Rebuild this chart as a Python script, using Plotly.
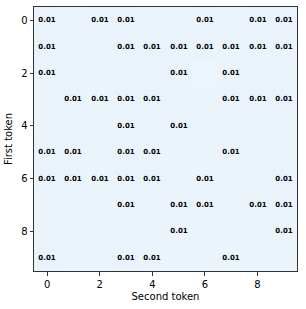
import plotly.graph_objects as go

rows = list(range(10))
cols = list(range(10))

# value grid (row = first token, col = second token)
values = [
    [0.0105, 0.0090, 0.0102, 0.0106, 0.0088, 0.0091, 0.0101, 0.0089, 0.0104, 0.0107],
    [0.0101, 0.0088, 0.0090, 0.0105, 0.0101, 0.0103, 0.0106, 0.0100, 0.0104, 0.0107],
    [0.0100, 0.0090, 0.0088, 0.0091, 0.0090, 0.0101, 0.0087, 0.0100, 0.0090, 0.0091],
    [0.0090, 0.0101, 0.0100, 0.0105, 0.0101, 0.0091, 0.0088, 0.0101, 0.0104, 0.0105],
    [0.0091, 0.0088, 0.0090, 0.0100, 0.0091, 0.0101, 0.0090, 0.0088, 0.0090, 0.0091],
    [0.0104, 0.0101, 0.0090, 0.0105, 0.0100, 0.0090, 0.0088, 0.0101, 0.0090, 0.0088],
    [0.0105, 0.0101, 0.0100, 0.0105, 0.0101, 0.0090, 0.0100, 0.0091, 0.0088, 0.0105],
    [0.0090, 0.0088, 0.0091, 0.0100, 0.0090, 0.0101, 0.0104, 0.0090, 0.0100, 0.0105],
    [0.0088, 0.0090, 0.0088, 0.0091, 0.0090, 0.0100, 0.0091, 0.0088, 0.0090, 0.0100],
    [0.0101, 0.0090, 0.0091, 0.0105, 0.0100, 0.0090, 0.0088, 0.0100, 0.0091, 0.0090],
]
tick_vals = [0, 2, 4, 6, 8]
label_threshold = 0.0095

text = [[f"{v:.2f}" if v >= label_threshold else "" for v in r] for r in values]

blues = [
    [0.0, "#f7fbff"], [0.125, "#deebf7"], [0.25, "#c6dbef"], [0.375, "#9ecae1"],
    [0.5, "#6baed6"], [0.625, "#4292c6"], [0.75, "#2171b5"], [0.875, "#08519c"],
    [1.0, "#08306b"],
]

fig = go.Figure(go.Heatmap(
    z=values, x=cols, y=rows, text=text, texttemplate="%{text}",
    textfont=dict(family="DejaVu Sans", size=7, color="black", weight="bold"),
    colorscale=blues, zmin=0, zmax=0.16, showscale=False,
))

axis_common = dict(
    showline=True, linecolor="#333333", linewidth=1, mirror=True,
    ticks="outside", ticklen=3.5, tickwidth=1, tickcolor="#333333",
    tickvals=tick_vals, showgrid=False, zeroline=False, automargin=False,
    tickfont=dict(family="DejaVu Sans", size=10, color="black"),
)
fig.update_xaxes(**axis_common, range=[-0.5, 9.5],
                 title=dict(text="Second token", standoff=4,
                            font=dict(family="DejaVu Sans", size=10, color="black")))
fig.update_yaxes(**axis_common, range=[9.5, -0.5],
                 title=dict(text="First token", standoff=6,
                            font=dict(family="DejaVu Sans", size=10, color="black")))
fig.update_layout(
    width=306, height=309, margin=dict(l=34, r=9, t=7, b=38),
    paper_bgcolor="white", plot_bgcolor="white",
)
fig.write_html("out.html", config={"displayModeBar": False},
               post_script="document.body.style.margin='0';document.body.style.overflow='hidden';")
